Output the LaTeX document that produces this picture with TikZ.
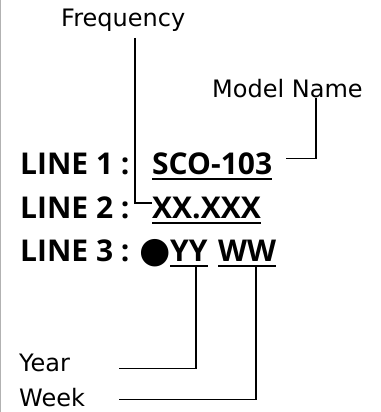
\documentclass[tikz,border=0pt]{standalone}
\usepackage{fontspec}
\setmainfont{DejaVu Sans}
\newfontfamily\boldfam{Open Sans}
\begin{document}
\begin{tikzpicture}[x=1pt,y=1pt,
  lbl/.style={anchor=base west,inner sep=0pt,font=\fontsize{24}{28}\selectfont},
  big/.style={anchor=base west,inner sep=0pt,font=\boldfam\bfseries\fontsize{30}{34}\selectfont},
  conn/.style={draw=black,line width=1.4pt},
  uline/.style={draw=black,line width=2pt}]
\useasboundingbox (0,0) rectangle (380,412);
\fill[white] (0,0) rectangle (380,412);
\draw[line width=1.3pt,draw=black!30] (0.65,0) -- (0.65,412);
% labels
\node[lbl] (freq) at (61,385.3) {Frequency};
\node[lbl] (model) at (212,314) {Model Name};
\node[lbl] (year) at (19,40.3) {Year};
\node[lbl] (week) at (19,5.3) {Week};
% lines
\node[big] (l1) at (20,237) {LINE 1 :};
\node[big] (sco) at (152,237) {SCO-103};
\node[big] (l2) at (20,193) {LINE 2 :};
\node[big] (xx) at (152,193) {XX.XXX};
\node[big] (l3) at (20,150) {LINE 3 :};
\node[inner sep=0pt,font=\fontsize{36}{40}\selectfont] (dot) at (155.5,158.5) {●};
\node[big] (yy) at (170,150) {YY};
\node[big] (ww) at (218,150) {WW};
% underlines
\draw[uline] ([yshift=-4.3pt]sco.base west) -- ([yshift=-4.3pt]sco.base east);
\draw[uline] ([yshift=-4.3pt]xx.base west) -- ([yshift=-4.3pt]xx.base east);
\draw[uline] ([yshift=-3.7pt]yy.base west) -- ([yshift=-3.7pt]yy.base east);
\draw[uline] ([yshift=-3.7pt]ww.base west) -- ([yshift=-3.7pt]ww.base east);
% connector points
\coordinate (f1) at (135,374);
\coordinate (f2) at (152,209);
\coordinate (m1) at (316,314);
\coordinate (m2) at (286,253.7);
\coordinate (y1) at (196,146);
\coordinate (y2) at (119,43.7);
\coordinate (w1) at (256,146);
\coordinate (w2) at (119,12.7);
\draw[conn] (f1) |- (f2);
\draw[conn] (m1) |- (m2);
\draw[conn] (y1) |- (y2);
\draw[conn] (w1) |- (w2);
\end{tikzpicture}
\end{document}
